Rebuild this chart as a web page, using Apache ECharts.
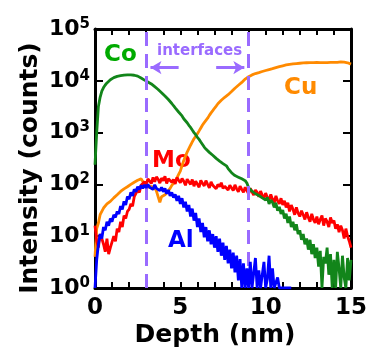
<!DOCTYPE html>
<html>
<head>
<meta charset="utf-8">
<script src="https://cdn.jsdelivr.net/npm/echarts@6/dist/echarts.min.js"></script>
<style>html,body{margin:0;padding:0;background:#fff}#c{width:370px;height:350px}</style>
</head>
<body>
<div id="c"></div>
<script>
// Depth grid step (nm); each series below is sampled every 0.1 nm from 0 to 15 nm
const depthStep = 0.1;
const xTicks = [0, 5, 10, 15];
const yTicks = [1, 10, 100, 1000, 10000, 100000];

const coCounts = [
  240, 1000, 3200, 4800, 6300, 7400, 8300, 9100, 9800, 10500,
  11000, 11500, 11900, 12200, 12400, 12600, 12800, 12900, 13000, 13000,
  13000, 13000, 12900, 12800, 12600, 12300, 11800, 11300, 10800, 10300,
  10000, 9500, 9100, 8700, 8100, 7700, 7200, 6800, 6300, 5900,
  5500, 5100, 4700, 4350, 4000, 3650, 3300, 3000, 2750, 2500,
  2300, 2100, 1850, 1700, 1550, 1380, 1260, 1120, 1000, 910,
  810, 740, 660, 590, 525, 480, 445, 415, 390, 365,
  340, 318, 292, 282, 262, 252, 238, 228, 202, 188,
  168, 162, 148, 146, 138, 136, 128, 127, 118, 106,
  86, 82, 74, 78, 66, 70, 61, 66, 55, 60,
  50, 56, 42, 50, 45, 36, 44, 31, 37, 27,
  32, 22, 27, 18, 24, 15, 19, 13, 17, 11,
  13, 8.5, 11, 7, 9, 5.5, 8.5, 4.5, 7, 3.8,
  6, 2.6, 5.2, 1, 4, 3, 6, 1.8, 4.5, 1,
  3.5, 1, 5, 2.4, 1, 4.2, 1.6, 1, 3.8, 1.4,
  3.5
];
const cuCounts = [
  4, 14, 18, 26, 27, 35, 34, 42, 40, 47,
  46, 55, 52, 63, 60, 73, 70, 82, 78, 90,
  86, 100, 95, 110, 104, 120, 112, 128, 114, 116,
  98, 102, 86, 94, 80, 88, 74, 72, 45, 58,
  58, 63, 67, 76, 84, 96, 104, 116, 134, 156,
  180, 230, 290, 350, 420, 490, 570, 660, 760, 850,
  950, 1080, 1230, 1400, 1560, 1700, 1900, 2150, 2400, 2650,
  2950, 3250, 3600, 3900, 4200, 4500, 4800, 5100, 5400, 5800,
  6200, 6700, 7200, 7700, 8200, 8700, 9300, 10000, 10800, 11500,
  12000, 12500, 13000, 13400, 13800, 14100, 14400, 14800, 15100, 15500,
  15800, 16100, 16500, 16900, 17200, 17600, 18000, 18400, 18800, 19100,
  19500, 19900, 20200, 20500, 20800, 21000, 21200, 21400, 21500, 21700,
  21800, 22000, 22100, 22000, 22300, 22200, 22400, 22300, 22500, 22400,
  22600, 22400, 22500, 22700, 22500, 22600, 22400, 22700, 22600, 22800,
  22600, 22900, 22700, 22800, 23200, 22700, 22900, 22600, 22300, 21800,
  21000
];
const moCounts = [
  16, 8, 6, 11, 9, 7, 5, 9, 4.5, 6,
  5.5, 10, 8, 14, 12, 19, 15, 25, 22, 30,
  33, 42, 38, 58, 55, 78, 70, 96, 88, 112,
  100, 128, 120, 104, 136, 112, 140, 126, 106, 132,
  118, 144, 104, 128, 138, 110, 124, 102, 136, 120,
  108, 130, 115, 96, 126, 118, 100, 124, 92, 116,
  110, 88, 120, 104, 94, 118, 100, 86, 112, 96,
  104, 82, 100, 90, 108, 84, 92, 100, 78, 96,
  88, 76, 98, 82, 72, 92, 80, 70, 88, 76,
  66, 84, 72, 62, 78, 70, 58, 74, 62, 54,
  68, 56, 50, 64, 52, 44, 60, 48, 42, 54,
  40, 48, 36, 44, 30, 40, 33, 26, 36, 28,
  24, 31, 26, 21, 29, 23, 19, 27, 21, 18,
  24, 17, 21, 25, 16, 22, 19, 15, 23, 18,
  20, 14, 17, 12, 16, 13, 9, 14, 10, 8,
  6
];
const alCounts = [
  1, 3.5, 7, 11, 9, 15, 13, 19, 16, 22,
  19, 26, 23, 30, 27, 38, 33, 47, 40, 58,
  52, 70, 60, 80, 72, 90, 80, 96, 84, 98,
  86, 100, 88, 94, 80, 98, 84, 90, 76, 88,
  72, 84, 66, 78, 60, 70, 56, 64, 48, 60,
  42, 54, 36, 46, 30, 40, 24, 34, 20, 28,
  15, 22, 12, 18, 9.5, 15, 8, 13, 7, 11,
  6, 10, 5, 9, 4.2, 7.5, 3.5, 6.5, 3, 5.5,
  2.4, 4.8, 2, 4.2, 1.4, 3.6, 1, 3, 1, 2.4,
  1, 3.2, 1, 1, 3.8, 1, 2.2, 1, 1, 3.2,
  1, 1.5, 4.2, 1, 2.4, 1, 1, 1.6, 1, 1,
  1, 1, 1, 1, 1, 1
];
// interface positions (nm) and arrow spans
const interfaces = [3, 9];
const arrowLeft = [4.9, 3.25];
const arrowRight = [7.1, 8.75];
const arrowLevel = 18000;

const FONT = 'DejaVu Sans';
const PURPLE = '#9a6bff';

function toPairs(arr) { return arr.map((v, i) => [Math.round(i * depthStep * 10) / 10, v]); }

const chart = echarts.init(document.getElementById('c'), null, {renderer: 'canvas'});

const xAxisBase = {
  type: 'value', min: 0, max: 15, interval: 1,
  axisLine: {show: true, onZero: false, lineStyle: {color: '#000', width: 3}},
  axisTick: {show: true, inside: true, length: 6, lineStyle: {color: '#000', width: 2}},
  splitLine: {show: false}
};
const yAxisBase = {
  type: 'log', logBase: 10, min: 1, max: 100000,
  axisLine: {show: true, onZero: false, lineStyle: {color: '#000', width: 3}},
  axisTick: {show: true, inside: true, length: 8, lineStyle: {color: '#000', width: 2}},
  splitLine: {show: false},
  minorTick: {show: false}
};

const option = {
  animation: false,
  backgroundColor: '#fff',
  grid: {left: 95, top: 29, right: 13, bottom: 62},
  xAxis: [
    Object.assign({}, xAxisBase, {
      position: 'bottom',
      axisLabel: {
        show: true, margin: 9, color: '#000', fontFamily: FONT, fontWeight: 'bold', fontSize: 23,
        formatter: v => (xTicks.indexOf(v) >= 0 ? String(v) : '')
      }
    }),
    Object.assign({}, xAxisBase, {position: 'top', axisLabel: {show: false}})
  ],
  yAxis: [
    Object.assign({}, yAxisBase, {
      position: 'left',
      axisLabel: {
        show: true, margin: 5, color: '#000',
        formatter: v => (yTicks.indexOf(v) >= 0 ? '{b|10}{s|' + Math.round(Math.log10(v)) + '}' : ''),
        rich: {
          b: {fontFamily: FONT, fontWeight: 'bold', fontSize: 22, color: '#000'},
          s: {fontFamily: FONT, fontWeight: 'bold', fontSize: 15, color: '#000', verticalAlign: 'top', padding: [0, 0, 10, 0]}
        }
      }
    }),
    Object.assign({}, yAxisBase, {position: 'right', axisLabel: {show: false}})
  ],
  series: [
    {name: 'Cu', type: 'line', data: toPairs(cuCounts), showSymbol: false, symbol: 'none',
     lineStyle: {color: '#ff8a00', width: 2.8}, z: 2},
    {name: 'Mo', type: 'line', data: toPairs(moCounts), showSymbol: false, symbol: 'none',
     lineStyle: {color: '#ff0000', width: 2.8}, z: 3},
    {name: 'Co', type: 'line', data: toPairs(coCounts), showSymbol: false, symbol: 'none',
     lineStyle: {color: '#12851a', width: 2.8}, z: 4},
    {name: 'Al', type: 'line', data: toPairs(alCounts), showSymbol: false, symbol: 'none',
     lineStyle: {color: '#0000ff', width: 2.8}, z: 5},
    {name: 'interfaces', type: 'line', data: [], z: 6,
     markLine: {silent: true, symbol: ['none', 'none'], label: {show: false},
       lineStyle: {color: PURPLE, width: 3, type: [14, 8]},
       data: interfaces.map(x => ({xAxis: x}))}},
    {name: 'arrows', type: 'line', data: [], z: 6,
     markLine: {silent: true, symbol: ['none', 'arrow'], symbolSize: [10, 11], label: {show: false},
       lineStyle: {color: PURPLE, width: 3, type: 'solid'},
       data: [
         [{coord: [arrowLeft[0], arrowLevel]}, {coord: [arrowLeft[1], arrowLevel]}],
         [{coord: [arrowRight[0], arrowLevel]}, {coord: [arrowRight[1], arrowLevel]}]
       ]}}
  ],
  graphic: [
    {type: 'text', left: 104, top: 44, style: {text: 'Co', fill: '#00aa00', font: 'bold 23px "DejaVu Sans"'}},
    {type: 'text', left: 284, top: 77, style: {text: 'Cu', fill: '#ff8a00', font: 'bold 23px "DejaVu Sans"'}},
    {type: 'text', left: 152, top: 150, style: {text: 'Mo', fill: '#ff0000', font: 'bold 23px "DejaVu Sans"'}},
    {type: 'text', left: 168, top: 230, style: {text: 'Al', fill: '#0000ff', font: 'bold 23px "DejaVu Sans"'}},
    {type: 'text', left: 157, top: 44, style: {text: 'interfaces', fill: PURPLE, font: 'bold 15px "DejaVu Sans"'}},
    {type: 'text', x: 30, y: 168, rotation: Math.PI / 2,
     style: {text: 'Intensity (counts)', fill: '#000', font: 'bold 25px "DejaVu Sans"', align: 'center', verticalAlign: 'middle'}},
    {type: 'text', x: 215, y: 335,
     style: {text: 'Depth (nm)', fill: '#000', font: 'bold 25px "DejaVu Sans"', align: 'center', verticalAlign: 'middle'}}
  ]
};
chart.setOption(option);
</script>
</body>
</html>
